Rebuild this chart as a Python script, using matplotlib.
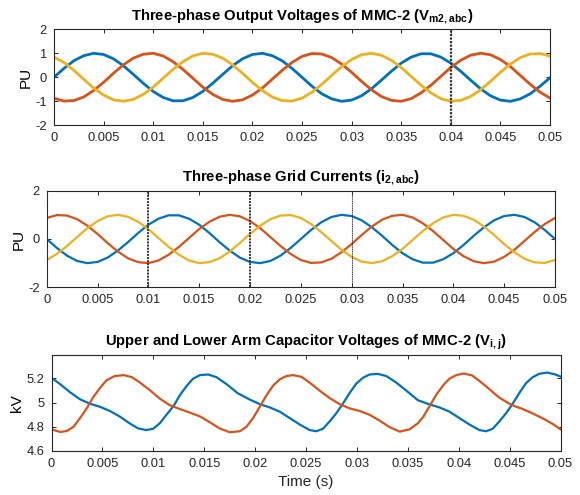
import matplotlib
matplotlib.use("Agg")
import matplotlib.pyplot as plt
import numpy as np

plt.rcParams['font.family'] = ['Liberation Sans', 'DejaVu Sans']
plt.rcParams['mathtext.fontset'] = 'custom'
plt.rcParams['mathtext.rm'] = 'Liberation Sans'
plt.rcParams['mathtext.bf'] = 'Liberation Sans:bold'
plt.rcParams['axes.unicode_minus'] = False

# ---------------- data ----------------
t_ms = [k * 0.001 for k in range(51)]

# Top: Three-phase output voltages (PU)
vm_a = [0.0, 0.37, 0.69, 0.9, 1.0, 0.95, 0.77, 0.48, 0.12, -0.25, -0.59, -0.84, -0.98, -0.98, -0.84, -0.59, -0.25,
        0.12, 0.48, 0.77, 0.95, 1.0, 0.9, 0.69, 0.37, 0.0, -0.37, -0.69, -0.9, -1.0, -0.95, -0.77, -0.48, -0.12,
        0.25, 0.59, 0.84, 0.98, 0.98, 0.84, 0.59, 0.25, -0.12, -0.48, -0.77, -0.95, -1.0, -0.9, -0.69, -0.37, -0.02]
vm_b = [-0.87, -0.99, -0.97, -0.82, -0.55, -0.21, 0.17, 0.52, 0.8, 0.96, 1.0, 0.89, 0.65, 0.33, -0.04, -0.41, -0.71,
        -0.92, -1.0, -0.94, -0.74, -0.45, -0.08, 0.29, 0.62, 0.87, 0.99, 0.97, 0.82, 0.55, 0.21, -0.17, -0.52, -0.8,
        -0.96, -1.0, -0.89, -0.65, -0.33, 0.04, 0.41, 0.71, 0.92, 1.0, 0.94, 0.74, 0.45, 0.08, -0.29, -0.62, -0.87]
vm_c = [0.84, 0.62, 0.29, -0.08, -0.45, -0.74, -0.94, -1.0, -0.92, -0.71, -0.41, -0.04, 0.33, 0.65, 0.89, 1.0, 0.96,
        0.8, 0.52, 0.17, -0.21, -0.55, -0.82, -0.97, -0.99, -0.87, -0.62, -0.29, 0.08, 0.45, 0.74, 0.94, 1.0, 0.92,
        0.71, 0.41, 0.04, -0.33, -0.65, -0.89, -1.0, -0.96, -0.8, -0.52, -0.17, 0.21, 0.55, 0.82, 0.97, 0.99, 0.88]

# Middle: Three-phase grid currents (PU)
ig_a = [0.0, -0.37, -0.69, -0.91, -1.0, -0.95, -0.77, -0.48, -0.13, 0.25, 0.59, 0.84, 0.98, 0.98, 0.84, 0.59, 0.25,
        -0.13, -0.48, -0.77, -0.95, -1.0, -0.91, -0.69, -0.37, 0.0, 0.37, 0.69, 0.91, 1.0, 0.95, 0.77, 0.48, 0.13,
        -0.25, -0.59, -0.84, -0.98, -0.98, -0.84, -0.59, -0.25, 0.13, 0.48, 0.77, 0.95, 1.0, 0.91, 0.69, 0.37, 0.0]
ig_b = [0.87, 0.99, 0.97, 0.82, 0.55, 0.21, -0.17, -0.52, -0.8, -0.96, -1.0, -0.89, -0.65, -0.33, 0.04, 0.41, 0.71,
        0.92, 1.0, 0.94, 0.74, 0.45, 0.08, -0.29, -0.62, -0.87, -0.99, -0.97, -0.82, -0.55, -0.21, 0.17, 0.52, 0.8,
        0.96, 1.0, 0.89, 0.65, 0.33, -0.04, -0.41, -0.71, -0.92, -1.0, -0.94, -0.74, -0.45, -0.08, 0.29, 0.62, 0.87]
ig_c = [-0.87, -0.62, -0.29, 0.08, 0.45, 0.74, 0.94, 1.0, 0.92, 0.71, 0.41, 0.04, -0.33, -0.65, -0.89, -1.0, -0.96,
        -0.8, -0.52, -0.17, 0.21, 0.55, 0.82, 0.97, 0.99, 0.87, 0.62, 0.29, -0.08, -0.45, -0.74, -0.94, -1.0, -0.92,
        -0.71, -0.41, -0.04, 0.33, 0.65, 0.89, 1.0, 0.96, 0.8, 0.52, 0.17, -0.21, -0.55, -0.82, -0.97, -0.99, -0.87]

# Bottom: upper / lower arm capacitor voltages (kV)
t_up = [0.0, 0.00085, 0.00183, 0.0028, 0.0038, 0.00477, 0.00575, 0.0067, 0.0077, 0.0085, 0.0093, 0.01, 0.01065,
        0.0113, 0.012, 0.0126, 0.0133, 0.0139, 0.01458, 0.0154, 0.0162, 0.0172, 0.0183, 0.0195, 0.02046, 0.02144,
        0.02242, 0.0234, 0.02438, 0.02536, 0.02602, 0.02667, 0.02733, 0.02798, 0.02863, 0.02929, 0.02994, 0.0306,
        0.03125, 0.03207, 0.03289, 0.03387, 0.03485, 0.036, 0.03713, 0.03811, 0.03909, 0.04007, 0.04105, 0.04203,
        0.04269, 0.04334, 0.044, 0.04465, 0.0453, 0.04596, 0.04661, 0.04727, 0.04792, 0.04870, 0.04950, 0.05]
v_up = [5.205, 5.152, 5.085, 5.027, 4.99, 4.965, 4.93, 4.885, 4.827, 4.787, 4.773, 4.784, 4.83,
        4.9, 4.973, 5.06, 5.14, 5.197, 5.227, 5.232, 5.21, 5.152, 5.077, 5.024, 4.987, 4.96,
        4.925, 4.872, 4.819, 4.773, 4.763, 4.784, 4.845, 4.912, 4.992, 5.08, 5.157, 5.205,
        5.232, 5.237, 5.219, 5.165, 5.099, 5.019, 4.985, 4.96, 4.925, 4.872, 4.819, 4.773,
        4.763, 4.784, 4.845, 4.912, 4.99, 5.08, 5.16, 5.21, 5.238, 5.248, 5.232, 5.215]
t_lo = [0.0, 0.00085, 0.0015, 0.00216, 0.0028, 0.00346, 0.0041, 0.0048, 0.0054, 0.0062, 0.0071, 0.0079, 0.0087,
        0.0097, 0.01065, 0.0116, 0.0126, 0.0136, 0.0146, 0.01556, 0.0165, 0.0175, 0.0185, 0.01915, 0.0198, 0.02046,
        0.02111, 0.02176, 0.02242, 0.02307, 0.02373, 0.02455, 0.02536, 0.02634, 0.02733, 0.02831, 0.02929, 0.03027,
        0.03125, 0.03223, 0.03321, 0.0342, 0.03518, 0.036, 0.0365, 0.0371, 0.0378, 0.0385, 0.0391, 0.0398, 0.0405,
        0.0413, 0.0421, 0.0431, 0.044, 0.045, 0.0455, 0.0462, 0.0473, 0.048, 0.0486, 0.0493, 0.05]
v_lo = [4.779, 4.757, 4.765, 4.8, 4.872, 4.952, 5.045, 5.125, 5.184, 5.219, 5.227, 5.21, 5.165,
        5.1, 5.032, 4.979, 4.947, 4.917, 4.885, 4.837, 4.787, 4.755, 4.763, 4.8, 4.872, 4.965,
        5.059, 5.139, 5.192, 5.219, 5.227, 5.213, 5.165, 5.099, 5.037, 4.987, 4.952, 4.931,
        4.899, 4.851, 4.797, 4.76, 4.779, 4.83, 4.88, 4.965, 5.065, 5.145, 5.198, 5.228, 5.24,
        5.225, 5.175, 5.105, 5.04, 4.99, 4.97, 4.95, 4.909, 4.88, 4.854, 4.82, 4.779]

xticks = [0, 0.005, 0.01, 0.015, 0.02, 0.025, 0.03, 0.035, 0.04, 0.045, 0.05]
xtick_labels = ['0', '0.005', '0.01', '0.015', '0.02', '0.025', '0.03', '0.035', '0.04', '0.045', '0.05']

titles = [r'Three-phase Output Voltages of MMC-2 (V$_{\mathbf{m2,abc}}$)',
          r'Three-phase Grid Currents (i$_{\mathbf{2,abc}}$)',
          r'Upper and Lower Arm Capacitor Voltages of MMC-2 (V$_{\mathbf{i,j}}$)']

C_BLUE = '#0072BD'
C_RED = '#D95319'
C_YEL = '#EDB120'

fig = plt.figure(figsize=(5.8, 4.95), dpi=100)
ax1 = fig.add_axes([0.0931, 0.7469, 0.8552, 0.1939])
ax2 = fig.add_axes([0.0805, 0.4196, 0.8764, 0.1952])
ax3 = fig.add_axes([0.0888, 0.0889, 0.8776, 0.1939])

TICK_FS = 9.3
TITLE_FS = 10.7

def style(ax):
    ax.set_xlim(0, 0.05)
    ax.set_xticks(xticks)
    ax.set_xticklabels(xtick_labels)
    ax.tick_params(direction='in', length=3, width=0.7, top=True, right=True,
                   labelsize=TICK_FS, colors='0.15', pad=5)
    for s in ax.spines.values():
        s.set_linewidth(0.8)
        s.set_color('0.15')

# Top
ax1.plot(t_ms, vm_a, color=C_BLUE, lw=2.0)
ax1.plot(t_ms, vm_b, color=C_RED, lw=2.0)
ax1.plot(t_ms, vm_c, color=C_YEL, lw=2.0)
ax1.axvline(0.04, color='0.2', lw=1.6, ls=(0, (1, 0.6)), zorder=5)
style(ax1)
ax1.set_ylim(-2, 2)
ax1.set_yticks([-2, -1, 0, 1, 2])
ax1.set_yticklabels(['-2', '-1', '0', '1', '2'])
ax1.set_ylabel('PU', fontsize=11, labelpad=2)
ax1.set_title(titles[0], fontsize=TITLE_FS, fontweight='bold', pad=7)

# Middle
ax2.plot(t_ms, ig_a, color=C_BLUE, lw=1.6)
ax2.plot(t_ms, ig_b, color=C_RED, lw=1.6)
ax2.plot(t_ms, ig_c, color=C_YEL, lw=1.6)
for xv, lw in [(0.0, 1.4), (0.01, 1.4), (0.02, 1.4), (0.03, 0.8)]:
    ax2.axvline(xv, color='0.2', lw=lw, ls=(0, (1, 0.6)), zorder=5)
style(ax2)
ax2.set_ylim(-2, 2)
ax2.set_yticks([-2, 0, 2])
ax2.set_yticklabels(['-2', '0', '2'])
ax2.set_ylabel('PU', fontsize=11, labelpad=2)
ax2.set_title(titles[1], fontsize=TITLE_FS, fontweight='bold', pad=7)

# Bottom
ax3.plot(t_up, v_up, color=C_BLUE, lw=1.6)
ax3.plot(t_lo, v_lo, color=C_RED, lw=1.6)
style(ax3)
ax3.set_ylim(4.6, 5.393)
ax3.set_yticks([4.6, 4.8, 5.0, 5.2])
ax3.set_yticklabels(['4.6', '4.8', '5', '5.2'])
ax3.set_ylabel('kV', fontsize=11, labelpad=2)
ax3.set_xlabel('Time (s)', fontsize=11, labelpad=4, color='0.15')
ax3.set_title(titles[2], fontsize=TITLE_FS, fontweight='bold', pad=7)

fig.savefig('out.png', dpi=100)
